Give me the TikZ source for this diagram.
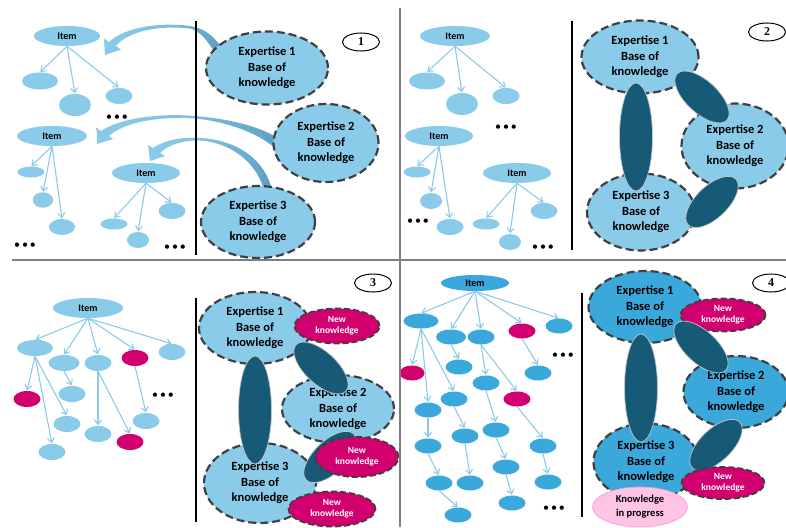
\documentclass[tikz,border=0pt]{standalone}
\usepackage{fontspec}
\setmainfont{Carlito}
\newfontfamily\numfont{Liberation Serif}
\usepackage{tikz}
\usetikzlibrary{shapes.geometric, arrows.meta, positioning}
\definecolor{skyblue}{HTML}{8BCBEA}
\definecolor{deepsky}{HTML}{3BA8DC}
\definecolor{darkteal}{HTML}{165A78}
\definecolor{newmag}{HTML}{D2006E}
\definecolor{progpink}{HTML}{FFC3E6}
\definecolor{dashgray}{HTML}{404040}
\definecolor{arrowdark}{HTML}{5C9FC4}
\definecolor{sepgray}{HTML}{7F7F7F}
\tikzset{
  % Tree nodes
  leaf/.style={
    ellipse, fill=#1, minimum width=27pt, minimum height=16pt, inner sep=0pt,
  },
  leaf/.default={skyblue},
  itemnode/.style={
    leaf=#1, minimum width=68pt, minimum height=20pt,
    font=\fontsize{10}{12}\selectfont\bfseries,
  },
  itemnode/.default={skyblue},
  % Tree arrows
  treearrow/.style={-{Straight Barb[length=4.5pt, width=7pt]}, line width=1.1pt,
    draw=skyblue, shorten >=0.5pt},
  % Bases of knowledge
  expertise/.style={
    ellipse, fill=#1, draw=dashgray, dash pattern=on 8pt off 4pt,
    line width=2.2pt, align=center, inner sep=0pt,
    font=\fontsize{12.5}{15.5}\selectfont\bfseries,
  },
  expertise/.default={skyblue},
  % Links between bases
  bridge/.style={ellipse, fill=darkteal, draw=gray!45, line width=0.7pt,
    minimum width=68pt, minimum height=32pt, inner sep=0pt},
  newknow/.style={
    ellipse, fill=newmag, draw=dashgray, dash pattern=on 6pt off 3pt,
    line width=1.8pt, text=white, align=center, inner sep=0pt,
    minimum width=85pt, minimum height=35pt,
    font=\fontsize{9.5}{11}\selectfont\bfseries,
  },
  progress/.style={
    ellipse, fill=progpink, draw=progpink!80!newmag, line width=0.6pt,
    align=center, inner sep=0pt, font=\fontsize{10.5}{14}\selectfont\bfseries,
  },
  % Curved arrows and misc
  bendarrow/.style={left color=skyblue, right color=arrowdark,
    middle color=skyblue!75!arrowdark},
  panelnum/.style={ellipse, draw=black, line width=1pt, minimum width=37pt,
    minimum height=18pt, inner sep=0pt,
    font=\numfont\fontsize{12}{12}\selectfont\bfseries},
  dots/.style={font=\fontsize{12}{12}\selectfont, inner sep=0pt},
  sepline/.style={draw=sepgray, line width=2pt},
  midline/.style={draw=black, line width=1.4pt},
}
\begin{document}
\begin{tikzpicture}[x=1pt, y=-1pt]
  \useasboundingbox (0,0) rectangle (786,527);

  % ---------- Panel 1 ----------
  \node[itemnode, minimum width=66pt] (a0) at (67,36) {Item};
  \node[leaf, minimum width=36pt, minimum height=17pt] (a1) at (40,81) {};
  \node[leaf, minimum width=32pt, minimum height=22pt] (a2) at (75,105) {};
  \node[leaf] (a3) at (119,96) {};
  \node[itemnode, minimum width=70pt] (b0) at (52,136) {Item};
  \node[leaf, minimum height=11pt] (b1) at (31,172) {};
  \node[leaf, minimum width=20pt, minimum height=15pt, draw=gray!50] (b2) at (43,200) {};
  \node[leaf, minimum width=26pt] (b3) at (62,227) {};
  \node[itemnode] (e0) at (146,173) {Item};
  \node[leaf, minimum height=11pt] (e1) at (114,224) {};
  \node[leaf, minimum width=22pt] (e2) at (138,240) {};
  \node[leaf] (e3) at (172,211) {};
  \foreach \a/\b in {a0/a1, a0/a2, a0/a3, b0/b1, b0/b2, b0/b3, e0/e1, e0/e2, e0/e3}
    \draw[treearrow] (\a.south) -- (\b.north);
  \node[dots] (dA) at (117,118) {•\,•\,•};
  \node[dots] (dB) at (25,246) {•\,•\,•};
  \node[dots] (dC) at (175,248) {•\,•\,•};

  % Curved arrows from the bases
  \shade[bendarrow] (109,42) .. controls (125,27) and (160,22) .. (190,26)
    .. controls (205,28) and (214,37) .. (222,48) -- (215,53)
    .. controls (207,40) and (200,31) .. (190,28.5)
    .. controls (160,25) and (128,31) .. (116,46)
    -- (121,49.6) -- (105,55) -- (104,38.4) -- cycle;
  \shade[bendarrow] (101,131) .. controls (120,118) and (160,113) .. (195,116)
    .. controls (232,119) and (265,128) .. (280,140) -- (277,150)
    .. controls (262,135) and (230,122) .. (195,118.5)
    .. controls (160,116) and (124,122) .. (109,136)
    -- (113.3,139) -- (97,144) -- (96.7,128) -- cycle;
  \shade[bendarrow] (153,148) .. controls (165,140) and (180,137) .. (200,138)
    .. controls (238,140) and (265,160) .. (272,190) -- (264,190)
    .. controls (257,164) and (233,143) .. (200,140.5)
    .. controls (183,140) and (168,145) .. (160,153)
    -- (165,156) -- (150,161) -- (148,145) -- cycle;
  \coordinate (l1t) at (196,21);
  \coordinate (l1b) at (196,255);
  \draw[midline] (l1t) -- (l1b);

  \node[expertise, minimum width=122pt, minimum height=73pt] (p1e1) at (267,68)
    {Expertise 1\\Base of\\knowledge};
  \node[expertise, minimum width=105pt, minimum height=78pt] (p1e2) at (326,143)
    {Expertise 2\\Base of\\knowledge};
  \node[expertise, minimum width=114pt, minimum height=72pt] (p1e3) at (258,222)
    {Expertise 3\\Base of\\knowledge};
  \node[panelnum] (n1) at (361,42) {1};

  % ---------- Panel 2 ----------
  \node[itemnode, minimum width=70pt] (f0) at (455,36) {Item};
  \node[leaf, minimum width=36pt, minimum height=17pt] (f1) at (427,81) {};
  \node[leaf, minimum width=32pt, minimum height=22pt] (f2) at (462,104) {};
  \node[leaf] (f3) at (506,96) {};
  \node[itemnode] (g0) at (439,136) {Item};
  \node[leaf, minimum height=11pt] (g1) at (417,172) {};
  \node[leaf, minimum width=22pt] (g2) at (431,201) {};
  \node[leaf] (g3) at (450,227) {};
  \node[itemnode] (h0) at (517,173) {Item};
  \node[leaf, minimum height=11pt] (h1) at (486,224) {};
  \node[leaf, minimum width=22pt] (h2) at (510,242) {};
  \node[leaf] (h3) at (544,211) {};
  \foreach \a/\b in {f0/f1, f0/f2, f0/f3, g0/g1, g0/g2, g0/g3, h0/h1, h0/h2, h0/h3}
    \draw[treearrow] (\a.south) -- (\b.north);
  \node[dots] (dD) at (506,128) {•\,•\,•};
  \node[dots] (dE) at (418,222) {•\,•\,•};
  \node[dots] (dF) at (543,248) {•\,•\,•};
  \coordinate (l2t) at (572,21);
  \coordinate (l2b) at (572,250);
  \draw[midline] (l2t) -- (l2b);

  \node[expertise, minimum width=117pt, minimum height=73pt] (p2e1) at (640,57)
    {Expertise 1\\Base of\\knowledge};
  \node[expertise, minimum width=107pt, minimum height=85pt] (p2e2) at (735,146)
    {Expertise 2\\Base of\\knowledge};
  \node[expertise, minimum width=108pt, minimum height=77pt] (p2e3) at (641,212)
    {Expertise 3\\Base of\\knowledge};
  \node[bridge, minimum width=33pt, minimum height=108pt] (p2v) at (636,137) {};
  \node[bridge, rotate=-43] (p2d1) at (702,97) {};
  \node[bridge, minimum width=66pt, rotate=44] (p2d2) at (712,202) {};
  \node[panelnum] (n2) at (767,32) {2};

  % ---------- Panel 3 ----------
  \node[itemnode, minimum width=70pt] (c0) at (88,308) {Item};
  \foreach \n/\x/\y/\w/\col in {c1/35/348/36pt/skyblue, c2/64/363/31pt/skyblue,
      c3/98/363/27pt/skyblue, c4/135/358/27pt/newmag, c5/172/352/27pt/skyblue,
      c6/27/399/27pt/newmag, c7/67/424/27pt/skyblue, c8/52/452/27pt/skyblue,
      c9/72/394/27pt/skyblue, c10/98/434/27pt/skyblue, c11/130/442/27pt/newmag,
      c12/146/421/27pt/skyblue}
    \node[leaf=\col, minimum width=\w] (\n) at (\x,\y) {};
  \foreach \a/\b in {c0/c1, c0/c2, c0/c3, c0/c4, c0/c5, c1/c6, c1/c7, c1/c8,
      c2/c9, c3/c10, c3/c11, c4/c12}
    \draw[treearrow] (\a.south) -- (\b.north);
  \node[dots] (dG) at (163,396) {•\,•\,•};
  \coordinate (l3t) at (196,298);
  \coordinate (l3b) at (196,522);
  \draw[midline] (l3t) -- (l3b);

  \node[expertise, minimum width=112pt, minimum height=72pt] (p3e1) at (255,328)
    {Expertise 1\\Base of\\knowledge};
  \node[expertise, minimum width=112pt, minimum height=68pt] (p3e2) at (338,409)
    {Expertise 2\\Base of\\knowledge};
  \node[expertise, minimum width=112pt, minimum height=80pt] (p3e3) at (260,483)
    {Expertise 3\\Base of\\knowledge};
  \node[bridge, minimum width=33pt, minimum height=108pt] (p3v) at (255,410) {};
  \node[bridge, rotate=-43] (p3d1) at (321,368) {};
  \node[bridge, minimum width=66pt, rotate=44] (p3d2) at (330,457) {};
  \node[newknow] (p3k1) at (337,326) {New\\knowledge};
  \node[newknow, minimum width=83pt, minimum height=40pt] (p3k2) at (357,457) {New\\knowledge};
  \node[newknow, minimum width=87pt] (p3k3) at (332,509) {New\\knowledge};
  \node[panelnum] (n3) at (373,283) {3};

  % ---------- Panel 4 ----------
  \node[itemnode=deepsky, minimum height=16pt] (q0) at (475,283) {Item};
  \foreach \n/\x/\y/\w/\col in {q1/421/321/35pt/deepsky, q2/451/337/30pt/deepsky,
      q3/481/337/27pt/deepsky, q4/522/331/27pt/newmag, q5/559/326/27pt/deepsky,
      q6/412/373/25pt/newmag, q7/428/410/27pt/deepsky, q8/454/399/27pt/deepsky,
      q9/459/367/27pt/deepsky, q10/486/383/27pt/deepsky, q11/517/399/27pt/newmag,
      q12/538/373/27pt/deepsky, q13/428/446/27pt/deepsky, q14/465/436/27pt/deepsky,
      q15/496/430/27pt/deepsky, q16/543/446/27pt/deepsky, q17/439/483/27pt/deepsky,
      q18/470/483/27pt/deepsky, q19/506/467/27pt/deepsky, q20/548/482/27pt/deepsky,
      q21/458/515/27pt/deepsky, q22/512/503/27pt/deepsky}
    \node[leaf=\col, minimum width=\w, minimum height=15pt] (\n) at (\x,\y) {};
  \foreach \a/\b in {q0/q1, q0/q2, q0/q3, q0/q4, q0/q5, q1/q6, q1/q7, q1/q8,
      q2/q9, q3/q10, q3/q11, q4/q12, q7/q13, q8/q14, q10/q15, q11/q16,
      q13/q17, q14/q18, q15/q19, q16/q20, q17/q21, q19/q22}
    \draw[treearrow] (\a.south) -- (\b.north);
  \node[dots] (dH) at (563,356) {•\,•\,•};
  \node[dots] (dI) at (554,509) {•\,•\,•};
  \coordinate (l4t) at (582,293);
  \coordinate (l4b) at (582,517);
  \draw[midline] (l4t) -- (l4b);

  \node[expertise=deepsky, minimum width=113pt, minimum height=72pt] (p4e1) at (645,307)
    {Expertise 1\\Base of\\knowledge};
  \node[expertise=deepsky, minimum width=105pt, minimum height=72pt] (p4e2) at (736,392)
    {Expertise 2\\Base of\\knowledge};
  \node[expertise=deepsky, minimum width=105pt, minimum height=77pt] (p4e3) at (646,462)
    {Expertise 3\\Base of\\knowledge};
  \node[newknow, minimum height=33pt] (p4k1) at (723,315) {New\\knowledge};
  \node[bridge, minimum width=33pt, minimum height=108pt] (p4v) at (641,388) {};
  \node[bridge, rotate=-43] (p4d1) at (701,347) {};
  \node[bridge, minimum width=66pt, rotate=44] (p4d2) at (716,445) {};
  \node[newknow, minimum width=83pt, minimum height=32pt] (p4k2) at (723,483) {New\\knowledge};
  \node[progress, minimum width=95pt, minimum height=40pt] (p4p) at (640,507)
    {Knowledge\\in progress};
  \node[panelnum] (n4) at (771,283) {4};

  % ---------- Panel borders ----------
  \coordinate (hl) at (12,260);
  \coordinate (hr) at (786,260);
  \coordinate (vt) at (400,8);
  \coordinate (vb) at (400,527);
  \draw[sepline] (hl) -- (hr);
  \draw[sepline] (vt) -- (vb);
\end{tikzpicture}
\end{document}
